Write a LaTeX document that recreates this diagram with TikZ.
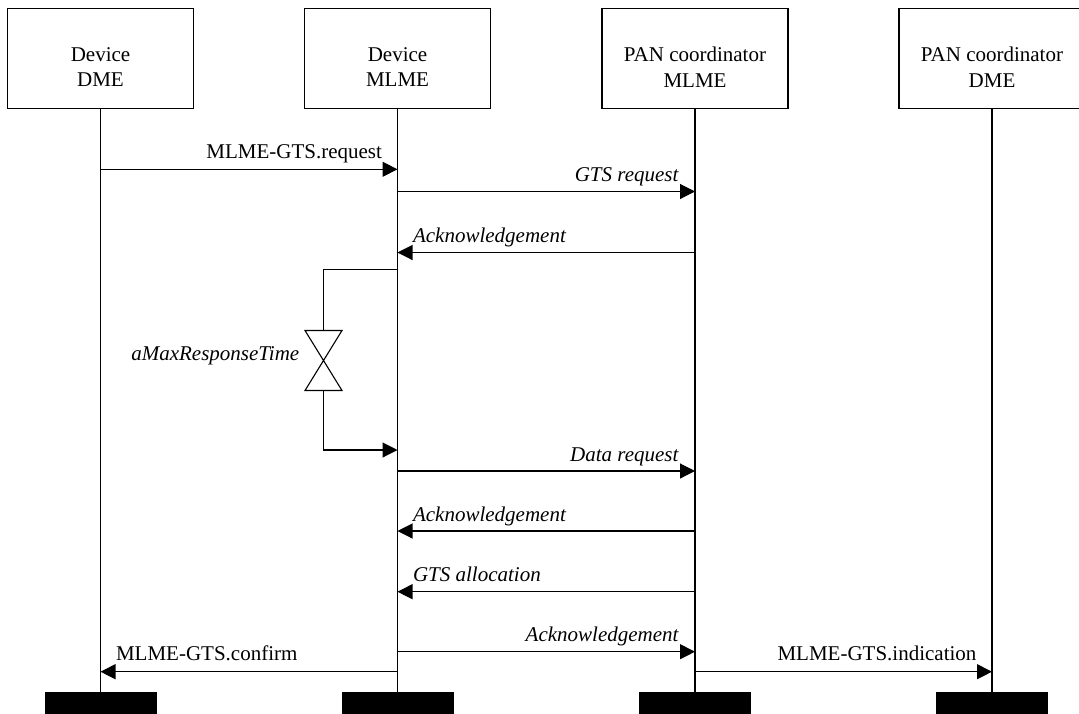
\documentclass[tikz,border=0pt]{standalone}
\usepackage{fontspec}
\setmainfont{Liberation Serif}
\usetikzlibrary{arrows.meta}
\begin{document}
\begin{tikzpicture}[x=1pt,y=-1pt,
  entity/.style={draw, line width=1.2pt, minimum width=186pt, minimum height=100pt, inner sep=0pt},
  entitytext/.style={align=center, font=\fontsize{21}{25.6}\selectfont, inner sep=0pt},
  lifeline/.style={line width=1.1pt},
  endbar/.style={fill=black, draw=none, minimum width=112pt, minimum height=22pt, inner sep=0pt},
  msg/.style={line width=1.1pt, -{Triangle[length=15pt,width=15pt]}},
  prim/.style={font=\fontsize{21}{25}\selectfont, inner sep=0pt},
  frame/.style={font=\fontsize{21}{25}\selectfont\itshape, inner sep=0pt},
]
\useasboundingbox (0,0) rectangle (1079,713);
\clip (0,0) rectangle (1079,713);

% entities
\node[entity] (b1) at (100.5,58.3) {};
\node[entity] (b2) at (397.5,58.3) {};
\node[entity] (b3) at (695,58.3) {};
\node[entity] (b4) at (992,58.3) {};
\node[entitytext] (n1) at (100.5,67) {Device\\DME};
\node[entitytext] (n2) at (397.5,67) {Device\\MLME};
\node[entitytext] (n3) at (695,67) {PAN coordinator\\MLME};
\node[entitytext] (n4) at (992,67) {PAN coordinator\\DME};

% end-of-life bars
\node[endbar] (e1) at (100.5,703) {};
\node[endbar] (e2) at (397.5,703) {};
\node[endbar] (e3) at (695,703) {};
\node[endbar] (e4) at (992,703) {};

% lifelines
\draw[lifeline] (b1.south) -- (e1.north);
\draw[lifeline] (b2.south) -- (e2.north);
\draw[lifeline] (b3.south) -- (e3.north);
\draw[lifeline] (b4.south) -- (e4.north);

% messages
\draw[msg] (b1 |- 0,169.3) -- (b2 |- 0,169.3)
  node[prim, anchor=base east, xshift=-15pt, yshift=11pt] (m1) {MLME-GTS.request};
\draw[msg] (b2 |- 0,191.5) -- (b3 |- 0,191.5)
  node[frame, anchor=base east, xshift=-16pt, yshift=10pt] (m2) {GTS request};
\draw[msg] (b3 |- 0,252.5) -- (b2 |- 0,252.5)
  node[frame, anchor=base west, xshift=15pt, yshift=10pt] (m3) {Acknowledgement};

% response timer
\coordinate (t0) at (b2 |- 0,269.5);
\coordinate (t1) at (323.5,269.5);
\coordinate (h1) at (323.5,330.5);
\coordinate (h2) at (323.5,390.5);
\coordinate (t2) at (323.5,450);
\draw[lifeline] (t0) -- (t1) -- (h1);
\draw[lifeline] (305,330.5) -- (342,330.5) -- (305,390.5) -- (342,390.5) -- cycle;
\draw[msg] (h2) -- (t2) -- (b2 |- t2);
\node[frame, anchor=base east] (tm) at (299.5,360.7) {aMaxResponseTime};

\draw[msg] (b2 |- 0,471) -- (b3 |- 0,471)
  node[frame, anchor=base east, xshift=-16pt, yshift=10pt] (m4) {Data request};
\draw[msg] (b3 |- 0,531) -- (b2 |- 0,531)
  node[frame, anchor=base west, xshift=15pt, yshift=10pt] (m5) {Acknowledgement};
\draw[msg] (b3 |- 0,591.7) -- (b2 |- 0,591.7)
  node[frame, anchor=base west, xshift=15pt, yshift=10pt] (m6) {GTS allocation};
\draw[msg] (b2 |- 0,651.7) -- (b3 |- 0,651.7)
  node[frame, anchor=base east, xshift=-16pt, yshift=10pt] (m7) {Acknowledgement};
\draw[msg] (b2 |- 0,671.7) -- (b1 |- 0,671.7)
  node[prim, anchor=base west, xshift=15pt, yshift=11pt] (m8) {MLME-GTS.confirm};
\draw[msg] (b3 |- 0,671.7) -- (b4 |- 0,671.7)
  node[prim, anchor=base east, xshift=-15pt, yshift=11pt] (m9) {MLME-GTS.indication};
\end{tikzpicture}
\end{document}
